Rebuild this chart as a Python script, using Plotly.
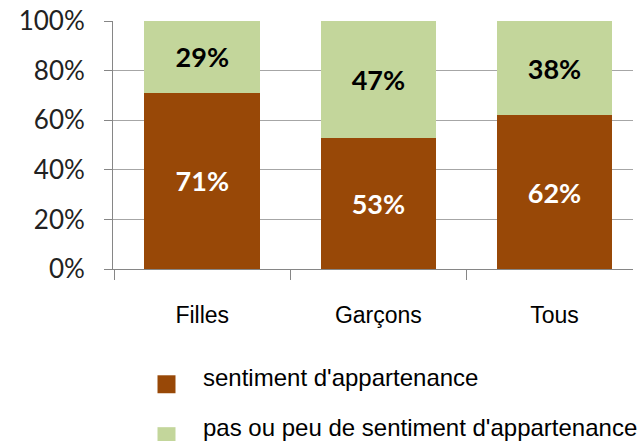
import plotly.graph_objects as go

categories = ["Filles", "Garçons", "Tous"]
sentiment = [71, 53, 62]
pas_sentiment = [29, 47, 38]
series_names = ["sentiment d'appartenance", "pas ou peu de sentiment d'appartenance"]
colors = ["#984807", "#C3D69B"]
label_colors = ["white", "black"]
y_ticks = [0, 20, 40, 60, 80, 100]
y_tick_labels = ["0%", "20%", "40%", "60%", "80%", "100%"]

W, H = 639, 441
ML, MR, MT, MB = 113, 6, 21, 171.5
PW, PH = W - ML - MR, H - MT - MB


def px_x(p):
    return (p - ML) / PW


def px_y(p):
    return (H - MB - p) / PH


fig = go.Figure()
for vals, name, col, lc in zip([sentiment, pas_sentiment], series_names, colors, label_colors):
    fig.add_trace(go.Bar(
        x=categories, y=vals, name=name, showlegend=False,
        marker=dict(color=col, line=dict(width=0)),
        width=0.657,
        text=[f"{v}%" for v in vals], textposition="inside", insidetextanchor="middle",
        textangle=0,
        textfont=dict(family="Lato", size=27, color=lc, weight="bold"),
        hoverinfo="skip",
    ))

# manual legend
legend_rows = [(376, 378), (428, 428)]  # (square top px, text centre px)
shapes = []
annotations = []
for (sq_top, txt_c), name, col in zip(legend_rows, series_names, colors):
    shapes.append(dict(
        type="rect", xref="paper", yref="paper",
        x0=px_x(157.5), x1=px_x(175.5), y0=px_y(sq_top), y1=px_y(sq_top + 18),
        fillcolor=col, line=dict(width=0), layer="above",
    ))
    annotations.append(dict(
        xref="paper", yref="paper", x=px_x(201), y=px_y(txt_c),
        xanchor="left", yanchor="middle", showarrow=False, text=name,
        font=dict(family="Liberation Sans", size=24, color="black"),
    ))

fig.update_layout(
    width=W, height=H,
    margin=dict(l=ML, r=MR, t=MT, b=MB, pad=0),
    paper_bgcolor="white", plot_bgcolor="white",
    barmode="stack", showlegend=False,
    shapes=shapes, annotations=annotations,
    xaxis=dict(
        range=[-0.507, 2.446], showgrid=False, automargin=False,
        showline=True, linecolor="#868686", linewidth=1,
        ticks="outside", tickson="boundaries", ticklen=10, tickcolor="#868686",
        tickfont=dict(family="Liberation Sans", size=23, color="black"),
        tickangle=0, ticklabelstandoff=25, ticklabeloverflow="allow",
    ),
    yaxis=dict(
        range=[0, 100], tickvals=y_ticks, ticktext=y_tick_labels, automargin=False,
        showgrid=True, gridcolor="#a6a6a6", gridwidth=1,
        showline=True, linecolor="#868686", linewidth=1,
        ticks="outside", ticklen=8, tickcolor="#868686",
        tickfont=dict(family="Lato", size=26, color="#222222"),
        ticklabelstandoff=14, zeroline=False, ticklabeloverflow="allow",
    ),
)

fig.write_html(
    "out.html",
    config={"displayModeBar": False, "staticPlot": True},
    post_script="document.body.style.margin='0';document.body.style.overflow='hidden';",
)
